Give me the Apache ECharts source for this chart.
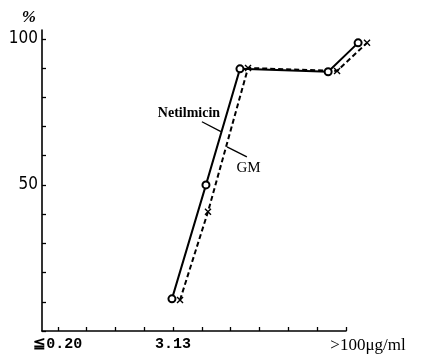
<!DOCTYPE html>
<html>
<head>
<meta charset="utf-8">
<script src="https://cdn.jsdelivr.net/npm/echarts@6/dist/echarts.min.js"></script>
<style>
    html, body { margin: 0; padding: 0; background: #fff; }
    #chart { width: 422px; height: 356px; }
</style>
</head>
<body>
<div id="chart"></div>
<script>
// MIC steps (twofold dilutions), index 0 .. 10
const micSteps = ["≦0.20", "0.39", "0.78", "1.56", "3.13", "6.25", "12.5", "25", "50", "100", ">100μg/ml"];
const labelSteps = [0, 4, 10];
const yTicks = [0, 10, 20, 30, 40, 50, 60, 70, 80, 90, 100];
const yLabels = [50, 100];

// cumulative % of strains, x given as position on the dilution scale
const netilX = [3.96, 5.14, 6.32, 9.38, 10.42];
const netilY = [11, 50, 89.7, 88.7, 98.6];
const gmX = [4.24, 5.21, 6.6, 9.69, 10.73];
const gmY = [10.6, 40.8, 90, 89, 98.6];

// annotation leaders in data units
const netilLeader = [[5.0, 71.6], [5.66, 68.2]];
const netilText = [5.63, 74.5];
const gmLeader = [[5.87, 63], [6.56, 59.6]];
const gmText = [6.2, 55.8];

const pair = (xs, ys) => xs.map((x, i) => [x, ys[i]]);
const crossPath = "path://M0,0L10,10M10,0L0,10";

// visible axes run from xMin to 10; the lines go a little further right,
// so they sit in a second, wider grid with the same scale
const xMin = -0.55;
const xMaxAxis = 10;
const xMaxData = 11;
const gridLeft = 42;
const gridRight = 76;
const pxPerStep = (422 - gridLeft - gridRight) / (xMaxAxis - xMin);
const gridRight2 = 422 - gridLeft - pxPerStep * (xMaxData - xMin);

const yBase = {
    type: "value",
    min: 0,
    max: 103,
    splitLine: { show: false }
};

let chart = echarts.init(document.getElementById("chart"));
let options = {
    animation: false,
    grid: [
        { left: gridLeft, right: gridRight, top: 30, bottom: 25 },
        { left: gridLeft, right: gridRight2, top: 30, bottom: 25 }
    ],
    xAxis: [
        {
            type: "value",
            gridIndex: 0,
            min: xMin,
            max: xMaxAxis,
            splitLine: { show: false },
            axisLine: {
                onZero: false,
                lineStyle: { color: "#000", width: 1.6 }
            },
            axisTick: {
                inside: true,
                length: 4,
                customValues: micSteps.map((s, i) => i),
                lineStyle: { color: "#000", width: 1.3 }
            },
            axisLabel: {
                customValues: labelSteps,
                margin: 6,
                color: "#000",
                fontFamily: "Liberation Mono",
                fontWeight: "bold",
                fontSize: 15,
                formatter: function(v) {
                    if (v === 10) {
                        return "{r|" + micSteps[v] + "}";
                    }
                    return micSteps[v];
                },
                rich: {
                    r: {
                        fontFamily: "Liberation Serif",
                        fontWeight: "normal",
                        fontSize: 17,
                        color: "#000",
                        padding: [0, 0, 0, 44]
                    }
                }
            }
        },
        {
            type: "value",
            gridIndex: 1,
            min: xMin,
            max: xMaxData,
            show: false
        }
    ],
    yAxis: [
        Object.assign({}, yBase, {
            gridIndex: 0,
            name: "%",
            nameGap: 4,
            nameTextStyle: {
                color: "#000",
                fontFamily: "Liberation Serif",
                fontStyle: "italic",
                fontWeight: "bold",
                fontSize: 17,
                align: "right",
                padding: [0, 6, 0, 0]
            },
            axisLine: {
                show: true,
                onZero: false,
                lineStyle: { color: "#000", width: 1.6 }
            },
            axisTick: {
                show: true,
                inside: true,
                length: 4,
                customValues: yTicks,
                lineStyle: { color: "#000", width: 1.3 }
            },
            axisLabel: {
                customValues: yLabels,
                margin: 4,
                color: "#000",
                fontFamily: "DejaVu Sans Condensed",
                fontSize: 17
            }
        }),
        Object.assign({}, yBase, { gridIndex: 1, show: false })
    ],
    series: [
        {
            name: "Netilmicin",
            type: "line",
            xAxisIndex: 1,
            yAxisIndex: 1,
            clip: false,
            data: pair(netilX, netilY),
            symbol: "emptyCircle",
            symbolSize: 7,
            lineStyle: { color: "#000", width: 2 },
            itemStyle: { color: "#000", borderWidth: 1.4 },
            z: 3
        },
        {
            name: "GM",
            type: "line",
            xAxisIndex: 1,
            yAxisIndex: 1,
            clip: false,
            data: pair(gmX, gmY),
            symbol: crossPath,
            symbolSize: 6,
            lineStyle: { color: "#000", width: 2, type: [5, 3] },
            itemStyle: { color: "#000", borderColor: "#000", borderWidth: 1.4 },
            z: 2
        }
    ]
};
chart.setOption(options);

// annotations placed from data coordinates
const px = p => chart.convertToPixel({ gridIndex: 0 }, p);
const nl = netilLeader.map(px);
const gl = gmLeader.map(px);
const nt = px(netilText);
const gt = px(gmText);
chart.setOption({
    graphic: [
        {
            type: "line",
            shape: { x1: nl[0][0], y1: nl[0][1], x2: nl[1][0], y2: nl[1][1] },
            style: { stroke: "#000", lineWidth: 1.3 }
        },
        {
            type: "line",
            shape: { x1: gl[0][0], y1: gl[0][1], x2: gl[1][0], y2: gl[1][1] },
            style: { stroke: "#000", lineWidth: 1.3 }
        },
        {
            type: "text",
            x: nt[0],
            y: nt[1],
            style: {
                text: "Netilmicin",
                fill: "#000",
                font: "bold 14px 'Liberation Serif'",
                align: "right",
                verticalAlign: "middle"
            }
        },
        {
            type: "text",
            x: gt[0],
            y: gt[1],
            style: {
                text: "GM",
                fill: "#000",
                font: "15px 'Liberation Serif'",
                align: "left",
                verticalAlign: "middle"
            }
        }
    ]
});
</script>
</body>
</html>
